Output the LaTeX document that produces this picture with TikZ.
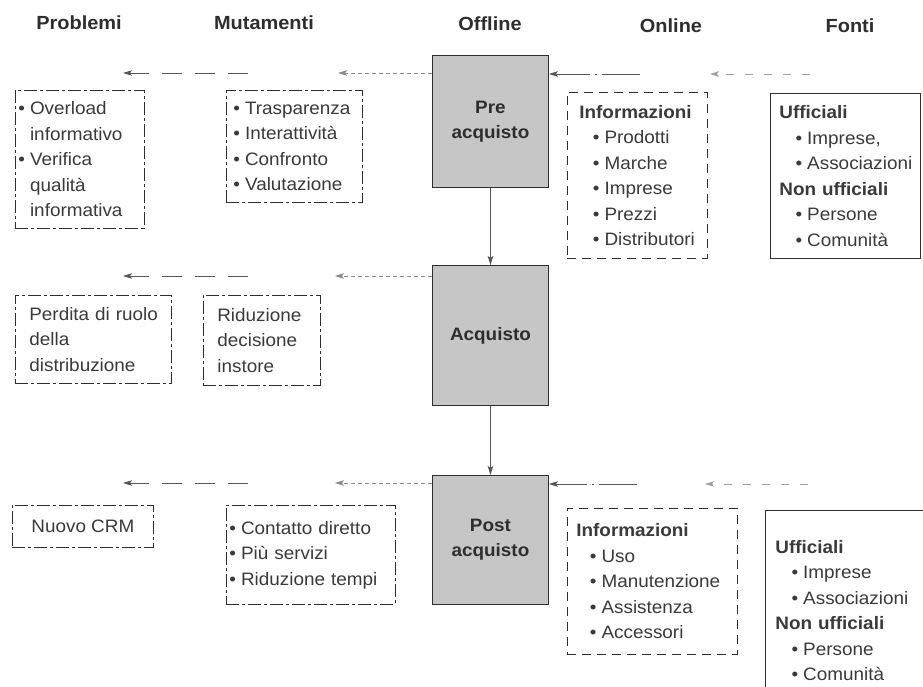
\documentclass[tikz,border=0pt]{standalone}
\usepackage{fontspec}
\setmainfont[FakeStretch=1.05]{Liberation Sans}
\usetikzlibrary{arrows.meta}
\definecolor{ink}{HTML}{2E2E2E}
\definecolor{txt}{HTML}{3A3A3A}
\definecolor{boxgray}{HTML}{C6C6C6}
\definecolor{ln}{HTML}{555555}
\definecolor{lnlight}{HTML}{8A8A8A}
\newcommand{\bul}{\makebox[0.65em][l]{•}}
\newcommand{\ind}{\hspace*{0.65em}}
\tikzset{
  hdr/.style={font=\fontsize{19}{22}\selectfont\bfseries, text=ink},
  stage/.style={draw=ink, fill=boxgray, line width=0.9pt, minimum width=116, anchor=north west,
    align=center, inner sep=0pt, font=\fontsize{18}{25}\selectfont\bfseries, text=ink},
  ddbox/.style={draw=ink, line width=0.7pt, dash pattern=on 13pt off 3pt on 3pt off 3pt,
    anchor=north west, align=left, text=txt},
  dbox/.style={draw=ink, line width=0.7pt, dash pattern=on 9pt off 6pt,
    anchor=north west, align=left, text=txt},
  sbox/.style={draw=ink, line width=0.7pt, anchor=north west, align=left, text=txt},
  tip/.style={-{Stealth[length=9pt,width=5.5pt,inset=2pt]}},
  longarr/.style={tip, draw=ln, line width=1pt, dash pattern=on 20pt off 13pt},
  dotarr/.style={tip, draw=lnlight, line width=0.9pt, dash pattern=on 4pt off 3pt},
  inarr/.style={tip, draw=ln, line width=0.9pt, dash pattern=on 38pt off 5pt on 2pt off 5pt},
  fararr/.style={tip, draw=lnlight!80, line width=0.9pt, dash pattern=on 8pt off 11pt},
  vertarr/.style={tip, draw=ln, line width=0.9pt}
}
\begin{document}
\begin{tikzpicture}[x=1pt,y=-1pt, font=\fontsize{18}{25.5}\selectfont]
\useasboundingbox (0,0) rectangle (923,686);
\fill[white] (0,0) rectangle (923,686);
\begin{scope}
\clip (0,0) rectangle (923,686);

% headers
\node[hdr] (hP) at (79,23) {Problemi};
\node[hdr] (hM) at (264,23) {Mutamenti};
\node[hdr] (hO) at (490,24) {Offline};
\node[hdr] (hN) at (671,26) {Online};
\node[hdr] (hF) at (850,26) {Fonti};

% stage boxes
\node[stage, minimum height=132] (pre) at (432,55) {Pre\\acquisto};
\node[stage, minimum height=140] (acq) at (432,265) {Acquisto};
\node[stage, minimum height=129] (post) at (432,475) {Post\\acquisto};

% row 1
\node[ddbox, inner xsep=3pt, text width=123, minimum height=138] (p1) at (15,90)
  {\bul Overload\\\ind informativo\\\bul Verifica\\\ind qualità\\\ind informativa};
\node[ddbox, inner xsep=7pt, text width=122, minimum height=112] (m1) at (226,90)
  {\bul Trasparenza\\\bul Interattività\\\bul Confronto\\\bul Valutazione};
\node[dbox, inner xsep=12pt, text width=116, minimum height=166] (o1) at (567,92)
  {\textbf{Informazioni}\\\hspace*{0.75em}\bul Prodotti\\\hspace*{0.75em}\bul Marche\\\hspace*{0.75em}\bul Imprese\\\hspace*{0.75em}\bul Prezzi\\\hspace*{0.75em}\bul Distributori};
\node[sbox, inner xsep=9pt, text width=132, minimum height=165] (f1) at (770,93)
  {\textbf{Ufficiali}\\\hspace*{0.9em}\bul Imprese,\\\hspace*{0.9em}\bul Associazioni\\\textbf{Non~ufficiali}\\\hspace*{0.9em}\bul Persone\\\hspace*{0.9em}\bul Comunità};

% row 2
\node[ddbox, inner xsep=14pt, text width=128, minimum height=88] (p2) at (15,295)
  {Perdita~di~ruolo\\della\\distribuzione};
\node[ddbox, inner xsep=14pt, text width=89, minimum height=90] (m2) at (203,295)
  {Riduzione\\decisione\\instore};

% row 3
\node[ddbox, align=center, inner sep=0pt, minimum width=141, minimum height=42] (p3) at (12,505)
  {Nuovo CRM};
\node[ddbox, inner xsep=3pt, text width=163, minimum height=99] (m3) at (226,505)
  {\bul Contatto~diretto\\\bul Più~servizi\\\bul Riduzione~tempi};
\node[dbox, inner xsep=9pt, text width=152, minimum height=146] (o3) at (567,508)
  {\textbf{Informazioni}\\\hspace*{0.75em}\bul Uso\\\hspace*{0.75em}\bul Manutenzione\\\hspace*{0.75em}\bul Assistenza\\\hspace*{0.75em}\bul Accessori};
\node[sbox, inner xsep=10pt, text width=155, minimum height=200] (f3) at (765,510)
  {\textbf{Ufficiali}\\\hspace*{0.9em}\bul Imprese\\\hspace*{0.9em}\bul Associazioni\\\textbf{Non~ufficiali}\\\hspace*{0.9em}\bul Persone\\\hspace*{0.9em}\bul Comunità};

% vertical flow
\draw[vertarr] (pre) -- (acq);
\draw[vertarr] (acq) -- (post);

% leftward arrows
\coordinate (a1) at (338,73);  \coordinate (b1s) at (248,73);  \coordinate (b1e) at (123,73);
\coordinate (a2) at (335,276); \coordinate (b2s) at (248,276); \coordinate (b2e) at (123,276);
\coordinate (a3) at (335,483); \coordinate (b3s) at (248,483); \coordinate (b3e) at (123,483);
\draw[dotarr] (pre.west |- a1) -- (a1);
\draw[longarr] (b1s) -- (b1e);
\draw[dotarr] (acq.west |- a2) -- (a2);
\draw[longarr] (b2s) -- (b2e);
\draw[dotarr] (post.west |- a3) -- (a3);
\draw[longarr] (b3s) -- (b3e);

% incoming arrows from the right
\coordinate (i1) at (640,74); \coordinate (g1s) at (810,74); \coordinate (g1e) at (710,74);
\coordinate (i3) at (637,484); \coordinate (g3s) at (808,484); \coordinate (g3e) at (705,484);
\draw[inarr] (i1) -- (pre.east |- i1);
\draw[fararr] (g1s) -- (g1e);
\draw[inarr] (i3) -- (post.east |- i3);
\draw[fararr] (g3s) -- (g3e);
\end{scope}
\end{tikzpicture}
\end{document}
